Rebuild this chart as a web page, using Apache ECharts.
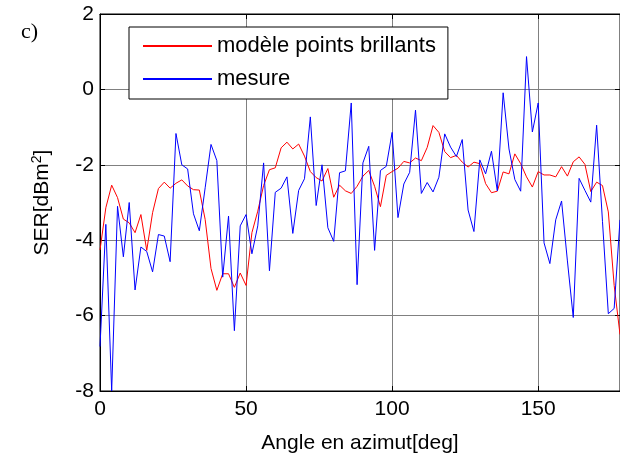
<!DOCTYPE html>
<html>
<head>
<meta charset="utf-8">
<script src="https://cdn.jsdelivr.net/npm/echarts@6/dist/echarts.min.js"></script>
<style>html,body{margin:0;padding:0;background:#fff;}#c{width:620px;height:459px;}</style>
</head>
<body>
<div id="c"></div>
<script>
const angles = [0,2,4,6,8,10,12,14,16,18,20,22,24,26,28,30,32,34,36,38,40,42,44,46,48,50,52,54,56,58,
  60,62,64,66,68,70,72,74,76,78,80,82,84,86,88,90,92,94,96,98,100,102,104,106,108,110,112,114,116,118,
  120,122,124,126,128,130,132,134,136,138,140,142,144,146,148,150,152,154,156,158,160,162,164,166,168,170,172,174,176,178];

const modele = [-4.26,-3.14,-2.54,-2.87,-3.44,-3.54,-3.80,-3.32,-4.27,-3.27,-2.63,-2.46,-2.62,-2.49,-2.40,-2.56,-2.66,-2.67,-3.45,-4.75,
  -5.33,-4.89,-4.89,-5.25,-4.87,-5.20,-3.80,-3.23,-2.55,-2.13,-2.08,-1.55,-1.40,-1.58,-1.45,-1.77,-2.18,-2.34,-2.43,-2.10,
  -2.86,-2.54,-2.69,-2.76,-2.57,-2.30,-2.15,-2.57,-3.11,-2.28,-2.18,-2.09,-1.91,-1.95,-1.82,-1.89,-1.54,-0.96,-1.14,-1.65,
  -1.81,-1.75,-1.93,-2.06,-1.93,-1.97,-2.50,-2.74,-2.70,-2.19,-2.24,-1.71,-1.97,-2.32,-2.59,-2.18,-2.27,-2.27,-2.32,-2.05,
  -2.30,-1.92,-1.79,-1.99,-2.71,-2.46,-2.55,-3.25,-5.20,-6.50];

const mesure = [-6.82,-3.58,-8.0,-3.10,-4.44,-3.00,-5.32,-4.18,-4.30,-4.84,-3.85,-3.89,-4.57,-1.17,-2.00,-2.11,-3.30,-3.75,-2.61,-1.46,
  -1.89,-4.98,-3.36,-6.40,-3.62,-3.32,-4.36,-3.62,-1.95,-4.81,-2.73,-2.62,-2.32,-3.82,-2.68,-2.37,-0.73,-3.08,-2.00,-3.67,
  -4.03,-2.21,-2.16,-0.36,-5.18,-1.95,-1.51,-4.27,-2.15,-2.04,-1.14,-3.40,-2.51,-2.20,-0.55,-2.76,-2.47,-2.72,-2.33,-1.18,
  -1.53,-1.78,-1.33,-3.20,-3.77,-1.87,-2.24,-1.64,-2.69,-0.09,-1.58,-2.39,-2.70,0.87,-1.13,-0.36,-4.07,-4.62,-3.46,-2.96,
  -4.55,-6.05,-2.36,-2.68,-2.99,-0.95,-3.50,-5.95,-5.81,-3.46];

const xTicks = [0, 50, 100, 150];
const yTicks = [-8, -6, -4, -2, 0, 2];
const seriesNames = ['modèle points brillants', 'mesure'];

const FONT = 'Liberation Sans, Arial, sans-serif';
const chart = echarts.init(document.getElementById('c'), null, {renderer: 'canvas'});
const pair = (xs, ys) => xs.map((x, i) => [x, ys[i]]);

const tickStyle = {show: true, inside: true, length: 5, lineStyle: {color: '#000', width: 1}};
const gridLine = {show: true, lineStyle: {color: '#808080', width: 1}};

chart.setOption({
  animation: false,
  backgroundColor: '#fff',
  title: {
    text: 'c)', left: 16, top: 16,
    textStyle: {fontFamily: 'Liberation Serif, Times New Roman, serif', fontWeight: 'normal', fontSize: 22, color: '#000'}
  },
  legend: {
    orient: 'vertical', left: 129, top: 27,
    padding: [8, 12, 9, 14],
    itemGap: 11, itemWidth: 69, itemHeight: 2,
    backgroundColor: '#fff', borderColor: '#000', borderWidth: 1, borderRadius: 0,
    icon: 'rect',
    textStyle: {fontFamily: FONT, fontSize: 22, color: '#000', padding: [0, 0, 0, 0]},
    data: seriesNames
  },
  grid: {left: 100, top: 14, width: 520, height: 380, show: true, borderColor: '#000', borderWidth: 1, backgroundColor: 'transparent'},
  xAxis: [{
    type: 'value', min: 0, max: 178, interval: 50,
    name: 'Angle en azimut[deg]', nameLocation: 'middle', nameGap: 42,
    nameTextStyle: {fontFamily: FONT, fontSize: 21, color: '#000'},
    axisLine: {show: true, onZero: false, lineStyle: {color: '#000', width: 1}},
    axisTick: tickStyle,
    axisLabel: {fontFamily: FONT, fontSize: 21, color: '#000', margin: 8, showMaxLabel: false,
      formatter: v => xTicks.includes(v) ? String(v) : ''},
    splitLine: gridLine
  }, {
    type: 'value', position: 'top', min: 0, max: 178, interval: 50,
    axisLine: {show: true, onZero: false, lineStyle: {color: '#000'}},
    axisTick: tickStyle, axisLabel: {show: false}, splitLine: {show: false}
  }],
  yAxis: [{
    type: 'value', min: -8, max: 2, interval: 2,
    name: 'SER[dBm{sup|2}]', nameLocation: 'middle', nameGap: 46, nameRotate: 90,
    nameTextStyle: {fontFamily: FONT, fontSize: 21, color: '#000',
      rich: {sup: {fontFamily: FONT, fontSize: 14, color: '#000', padding: [0, 0, 10, 0]}}},
    axisLine: {show: true, onZero: false, lineStyle: {color: '#000', width: 1}},
    axisTick: tickStyle,
    axisLabel: {fontFamily: FONT, fontSize: 21, color: '#000', margin: 6,
      formatter: v => yTicks.includes(v) ? String(v) : ''},
    splitLine: gridLine
  }, {
    type: 'value', position: 'right', min: -8, max: 2, interval: 2,
    axisLine: {show: true, onZero: false, lineStyle: {color: '#000'}},
    axisTick: tickStyle, axisLabel: {show: false}, splitLine: {show: false}
  }],
  series: [{
    name: seriesNames[0], type: 'line', symbol: 'none', clip: true,
    itemStyle: {color: '#ff0000'},
    lineStyle: {color: '#ff0000', width: 1},
    data: pair(angles, modele)
  }, {
    name: seriesNames[1], type: 'line', symbol: 'none', clip: true,
    itemStyle: {color: '#0000ff'},
    lineStyle: {color: '#0000ff', width: 1},
    data: pair(angles, mesure)
  }]
});
</script>
</body>
</html>
